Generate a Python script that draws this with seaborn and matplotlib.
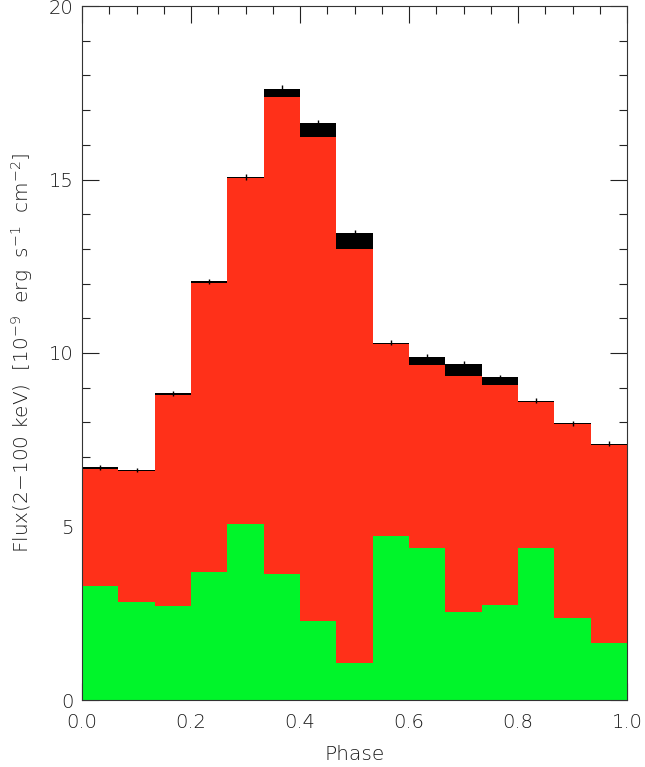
import numpy as np
import matplotlib
matplotlib.use("Agg")
import matplotlib.pyplot as plt
import seaborn as sns
from matplotlib.ticker import MultipleLocator

# 15 phase bins
phase = (np.arange(15) + 0.5) / 15
total = [6.71, 6.63, 8.84, 12.07, 15.08, 17.62, 16.62, 13.47, 10.30, 9.89, 9.69, 9.30, 8.63, 7.98, 7.38]
red = [6.67, 6.59, 8.80, 12.03, 15.04, 17.38, 16.23, 12.99, 10.26, 9.65, 9.35, 9.07, 8.59, 7.94, 7.34]
green = [3.29, 2.83, 2.72, 3.70, 5.07, 3.62, 2.29, 1.08, 4.73, 4.38, 2.53, 2.73, 4.38, 2.35, 1.64]
err = [0.07, 0.07, 0.07, 0.07, 0.08, 0.09, 0.09, 0.08, 0.07, 0.08, 0.08, 0.08, 0.07, 0.07, 0.07]

sns.set_style("ticks")
plt.rcParams["font.family"] = ["DejaVu Sans"]
plt.rcParams["font.weight"] = "light"
plt.rcParams["axes.labelweight"] = "light"
txt = "#1a1a1a"

fig = plt.figure(figsize=(6.45, 7.67), dpi=100)
ax = fig.add_axes([82 / 645, 67 / 767, 545 / 645, 694 / 767])

hist_kw = dict(bins=15, binrange=(0, 1), element="step", fill=True, alpha=1, linewidth=0, ax=ax)
sns.histplot(x=phase, weights=total, color="black", **hist_kw)
sns.histplot(x=phase, weights=red, color="#ff3019", **hist_kw)
sns.histplot(x=phase, weights=green, color="#00f52a", **hist_kw)
ax.errorbar(phase, total, yerr=err, fmt="none", ecolor="black", elinewidth=1)

ax.set_xlim(0, 1)
ax.set_ylim(0, 20)
ax.xaxis.set_major_locator(MultipleLocator(0.2))
ax.xaxis.set_minor_locator(MultipleLocator(0.05))
ax.yaxis.set_major_locator(MultipleLocator(5))
ax.yaxis.set_minor_locator(MultipleLocator(1))
ax.xaxis.set_major_formatter(plt.FuncFormatter(lambda v, p: f"{v:.1f}"))
ax.tick_params(which="both", direction="in", top=True, right=True, colors="#222222",
               labelcolor=txt, labelsize=14, width=0.8)
ax.tick_params(which="major", length=12)
ax.tick_params(which="minor", length=6)
ax.tick_params(axis="x", pad=9)
ax.tick_params(axis="y", pad=6)
for s in ax.spines.values():
    s.set_color("#333333")
    s.set_linewidth(0.8)

ax.set_xlabel("Phase", fontsize=14.5, color=txt, labelpad=10)
ax.set_ylabel(r"Flux(2$-$100 keV)  [10$^{-9}$  erg  s$^{-1}$  cm$^{-2}$]",
              fontsize=14.5, color=txt, labelpad=10)

fig.savefig("out.png", dpi=100)
